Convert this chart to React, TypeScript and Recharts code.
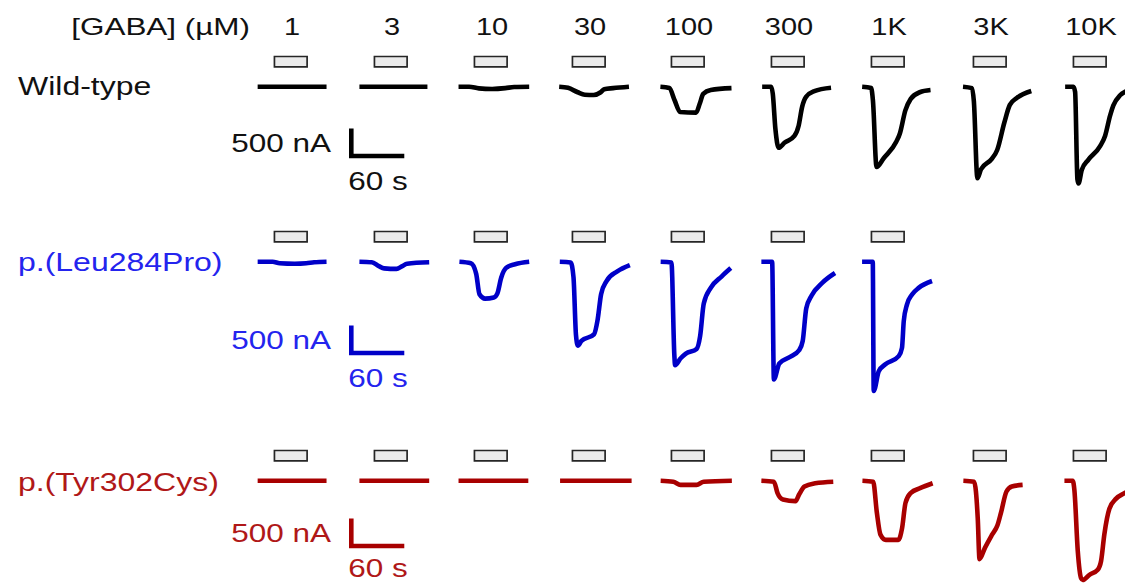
import React from 'react';
import { LineChart, Line, XAxis, YAxis, ReferenceArea } from 'recharts';

type Pt = [number, number];

// GABA concentration (µM) of each column
const concentrations = ['1', '3', '10', '30', '100', '300', '1K', '3K', '10K'];

// current traces, [time from GABA onset (s), current (nA)]
const wildType: Pt[][] = [
    [[-19, 0], [59, 0]],
    [[-17, 0], [60, 0]],
    [[-18, 0], [-6, 0], [5, -30], [20, -40], [35, -25], [45, -5], [62, 0]],
    [[-15, 0], [-5, -20], [6, -100], [14, -145], [24, -150], [32, -100], [36, -45], [46, -25], [64, 0]],
    [[-12.5, 0], [-2.4, -24], [3.7, -250], [9.8, -460], [28, -470], [32, -310], [36, -130], [44.5, -60], [68, -25]],
    [[-10.5, 0], [-0.3, 0], [1.5, -122], [4.5, -770], [8.2, -1110], [14.7, -1018], [26, -894], [30.8, -708], [34.7, -370], [39.2, -185], [48.6, -80], [67.5, -18]],
    [[-10.5, 0], [-0.3, -24], [1.7, -250], [5.8, -1460], [13.9, -1300], [28.1, -1000], [32.2, -850], [38.4, -430], [44.5, -220], [54.7, -100], [66.9, -60]],
    [[-11.8, 0], [-1.6, -26], [0.5, -266], [4.5, -1665], [8.6, -1500], [20.8, -1310], [26.9, -1150], [35, -650], [41.2, -330], [49.4, -200], [65.5, -76]],
    [[-9.4, 0], [0, 0], [1.9, -92], [4.5, -1680], [5.7, -1760], [9.5, -1510], [17, -1325], [30.2, -1080], [35.8, -895], [41.5, -525], [45.2, -340], [52.8, -155], [58.4, -92], [66, -50]],
];

const leu284Pro: Pt[][] = [
    [[-19, 0], [-2, 0], [6, -28], [23, -37], [36, -28], [45, -10], [59, 0]],
    [[-17, 0], [-3, -10], [5, -80], [11, -120], [25, -130], [31, -85], [37, -35], [62, -10]],
    [[-17, 0], [-4, -28], [2, -220], [5.7, -590], [12, -670], [22, -650], [26, -575], [30.3, -290], [36, -110], [46, -45], [62, 0]],
    [[-14.3, 0], [-2, -12], [1.2, -280], [4, -1330], [6.1, -1525], [10.2, -1440], [24.4, -1320], [28.5, -1055], [32.5, -585], [38.6, -350], [50.8, -175], [65, -60]],
    [[-12.2, 0], [0, -12], [3.3, -1700], [4.1, -1880], [10.2, -1760], [16.3, -1670], [28.5, -1585], [32.5, -1350], [36.6, -760], [44.7, -470], [57, -265], [67.2, -115]],
    [[-11.4, 0], [0.8, 0], [2.8, -2140], [8.9, -1850], [21.1, -1730], [31.3, -1610], [35.4, -1440], [39.4, -850], [45.5, -615], [57.8, -380], [72, -205]],
    [[-10.6, 0], [1.5, 0], [2.6, -2350], [8.3, -1990], [15.8, -1865], [30.9, -1715], [34.6, -1565], [36.6, -1080], [40.3, -775], [46, -595], [53.5, -475], [68.6, -350]],
];

const tyr302Cys: Pt[][] = [
    [[-19, 0], [59, 0]],
    [[-17, 0], [62, 0]],
    [[-18, 0], [61, 0]],
    [[-14, 0], [67, 0]],
    [[-12.2, 0], [2, -18], [10.2, -75], [28.5, -75], [36.6, -18], [68.4, 0]],
    [[-11.4, 0], [2.8, -18], [6.9, -225], [13, -340], [27.2, -370], [31.3, -250], [37.4, -105], [49.6, -47], [70, -18]],
    [[-10.2, 0], [2, -18], [6.1, -575], [10.2, -980], [16.3, -1075], [30.5, -1075], [34.6, -870], [38.6, -400], [44.7, -220], [55, -135], [69.3, -46]],
    [[-11.4, 0], [0.8, -18], [4.9, -690], [6.9, -1425], [13, -1220], [21.1, -980], [27.2, -810], [31.3, -575], [37.4, -195], [43.5, -105], [55.7, -75]],
    [[-10.2, 0], [-0.8, 0], [1.1, -172], [4.9, -1275], [8.7, -1775], [10.5, -1805], [18.1, -1710], [27.5, -1620], [31.3, -1460], [35, -975], [40.7, -510], [48.3, -325], [57.6, -228], [66, -150]],
];

// GABA application window (s) and scale bar sizes
const GABA_ON = 0;
const GABA_OFF = 37;
const SCALE_T = 60;
const SCALE_I = 500;

// layout
const PX_PER_S = 53 / 60;
const PX_PER_NA = 27.5 / 500;
const T_MIN = -22;
const T_MAX = 76;
const I_MIN = -2500;
const I_MAX = 650;
const BAR_LO = 360;
const BAR_HI = 550;
const COL_X = [291, 391, 491, 589, 688, 788, 888, 990, 1090];
const SX = 1.26;
const STROKE = 4.6;
const FONT = "'Liberation Sans', Arial, sans-serif";

const rows = [
    { name: 'Wild-type', traces: wildType, line: '#000000', text: '#111111', base: 87, labelY: 86, scaleY: 155.5, sY: 181 },
    { name: 'p.(Leu284Pro)', traces: leu284Pro, line: '#0000c8', text: '#2424ee', base: 262, labelY: 262, scaleY: 353, sY: 378 },
    { name: 'p.(Tyr302Cys)', traces: tyr302Cys, line: '#a80000', text: '#b01818', base: 481, labelY: 482, scaleY: 546, sY: 568 },
];

const W = (T_MAX - T_MIN) * PX_PER_S;
const H = (I_MAX - I_MIN) * PX_PER_NA;

const Trace = ({ pts, color, colX, base }: { pts: Pt[]; color: string; colX: number; base: number }) => {
    const data = pts.map(([t, i]) => ({ t, i }));
    const left = colX - ((GABA_ON + GABA_OFF) / 2 - T_MIN) * PX_PER_S;
    const top = base - I_MAX * PX_PER_NA;
    return (
        <div style={{ position: 'absolute', left, top }}>
            <LineChart width={W} height={H} data={data} margin={{ top: 0, right: 0, bottom: 0, left: 0 }}>
                <XAxis type="number" dataKey="t" domain={[T_MIN, T_MAX]} allowDataOverflow hide />
                <YAxis type="number" domain={[I_MIN, I_MAX]} allowDataOverflow hide />
                <ReferenceArea x1={GABA_ON} x2={GABA_OFF} y1={BAR_LO} y2={BAR_HI}
                    fill="#ebebeb" fillOpacity={1} stroke="#262626" strokeWidth={1.7} />
                <Line dataKey="i" type="monotone" stroke={color} strokeWidth={STROKE}
                    dot={false} isAnimationActive={false} />
            </LineChart>
        </div>
    );
};

const ScaleBar = ({ color, y }: { color: string; y: number }) => {
    const data = [
        { t: 0, i: SCALE_I },
        { t: 0, i: 0 },
        { t: SCALE_T, i: 0 },
    ];
    const tMin = -6, tMax = 66, iMin = -100, iMax = 600;
    return (
        <div style={{ position: 'absolute', left: 351 + tMin * PX_PER_S, top: y - iMax * PX_PER_NA }}>
            <LineChart width={(tMax - tMin) * PX_PER_S} height={(iMax - iMin) * PX_PER_NA} data={data}
                margin={{ top: 0, right: 0, bottom: 0, left: 0 }}>
                <XAxis type="number" dataKey="t" domain={[tMin, tMax]} allowDataOverflow hide />
                <YAxis type="number" domain={[iMin, iMax]} allowDataOverflow hide />
                <Line dataKey="i" type="linear" stroke={color} strokeWidth={STROKE} strokeLinejoin="miter"
                    dot={false} isAnimationActive={false} />
            </LineChart>
        </div>
    );
};

const Label = ({ x, y, text, color = '#111', size = 25, anchor = 'start', sx = SX }:
    { x: number; y: number; text: string; color?: string; size?: number; anchor?: 'start' | 'middle' | 'end'; sx?: number }) => (
    <text transform={`translate(${x} ${y}) scale(${sx} 1)`} textAnchor={anchor} dominantBaseline="central"
        fontSize={size} fontFamily={FONT} fill={color}>{text}</text>
);

export default function App() {
    return (
        <div style={{ position: 'absolute', left: 0, top: 0, width: 1125, height: 583, overflow: 'hidden', background: '#fff' }}>
            {rows.map((r) => (
                <React.Fragment key={r.name}>
                    {r.traces.map((pts, c) => (
                        <Trace key={c} pts={pts} color={r.line} colX={COL_X[c]} base={r.base} />
                    ))}
                    <ScaleBar color={r.line} y={r.scaleY} />
                </React.Fragment>
            ))}
            <svg width={1125} height={583} style={{ position: 'absolute', left: 0, top: 0, pointerEvents: 'none' }}>
                <Label x={250} y={27} text="[GABA] (µM)" size={24} sx={1.31} anchor="end" />
                {concentrations.map((c, k) => (
                    <Label key={c} x={COL_X[k] + 1} y={27} text={c} size={23} anchor="middle" />
                ))}
                {rows.map((r) => (
                    <React.Fragment key={r.name}>
                        <Label x={18} y={r.labelY} text={r.name} color={r.text} sx={1.28} />
                        <Label x={331} y={r.scaleY - 12.5} text="500 nA" color={r.text} anchor="end" />
                        <Label x={378} y={r.sY} text="60 s" color={r.text} anchor="middle" />
                    </React.Fragment>
                ))}
            </svg>
        </div>
    );
}
